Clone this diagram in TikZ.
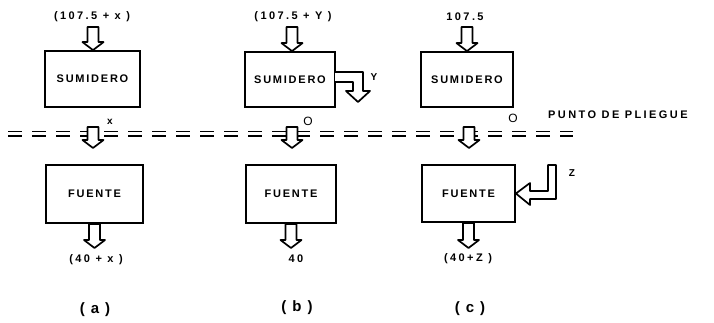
\documentclass[tikz,border=0pt]{standalone}
\usepackage{fontspec}
\setmainfont{Liberation Sans}
\newfontfamily\lblfont{Liberation Sans Bold}[LetterSpace=22]
\newfontfamily\boxfont{Liberation Sans Bold}[LetterSpace=16]
\newfontfamily\capfont{Liberation Sans Bold}[LetterSpace=12]
\newfontfamily\plainbold{Liberation Sans Bold}
\usetikzlibrary{calc}
\tikzset{
  box/.style={draw, line width=1.8pt, inner sep=0pt, font=\boxfont\fontsize{11}{12}\selectfont},
  lbl/.style={inner sep=0pt, font=\lblfont\fontsize{11}{12}\selectfont},
  small/.style={inner sep=0pt, font=\plainbold\fontsize{10}{11}\selectfont},
  capt/.style={inner sep=0pt, font=\capfont\fontsize{15}{16}\selectfont},
  blk/.style={draw, line width=1.7pt, fill=white, line join=round},
  dashline/.style={line width=1.7pt, dash pattern=on 14pt off 10pt},
}
\newcommand\blockdown[2]{%
  \draw[blk] let \p1=(#1), \p2=(#2) in
    (\x1-5.5pt,\y1) -- (\x1+5.5pt,\y1) -- (\x1+5.5pt,\y2+8pt) -- (\x1+10.5pt,\y2+8pt)
    -- (\x1,\y2) -- (\x1-10.5pt,\y2+8pt) -- (\x1-5.5pt,\y2+8pt) -- cycle;}
\begin{document}
\begin{tikzpicture}[x=1pt,y=-1pt]
\useasboundingbox[fill=white] (0,0) rectangle (714,323);
% dashed fold line
\coordinate (dA) at (8,131.5); \coordinate (dB) at (573,131.5);
\coordinate (dC) at (8,136); \coordinate (dD) at (573,136);
\draw[dashline] (dA) -- (dB);
\draw[dashline] (dC) -- (dD);
\node[lbl, anchor=west] (pp) at (548,115) {PUNTO DE PLIEGUE};
% boxes
\node[box, minimum width=95pt, minimum height=56pt] (s1) at (92.5,79) {SUMIDERO};
\node[box, minimum width=90pt, minimum height=55pt] (s2) at (290,79.5) {SUMIDERO};
\node[box, minimum width=92pt, minimum height=55pt] (s3) at (467,79.5) {SUMIDERO};
\node[box, minimum width=97pt, minimum height=58pt] (f1) at (94.5,194) {FUENTE};
\node[box, minimum width=90pt, minimum height=58pt] (f2) at (291,194) {FUENTE};
\node[box, minimum width=93pt, minimum height=57pt] (f3) at (468.5,193.5) {FUENTE};
% top labels
\node[lbl] (t1) at (92,17) {(107.5 + x )};
\node[lbl] (t2) at (293,17) {(107.5 + Y )};
\node[lbl] (t3) at (465,17) {107.5};
% top arrows
\coordinate (a1) at (93,27); \coordinate (a2) at (292,27); \coordinate (a3) at (467,27);
\blockdown{a1}{s1.north}
\blockdown{a2}{s2.north}
\blockdown{a3}{s3.north}
% middle arrows
\coordinate (m1) at (93,127); \coordinate (m1e) at (93,148);
\coordinate (m2) at (292,127); \coordinate (m2e) at (292,148);
\coordinate (m3) at (469,127); \coordinate (m3e) at (469,148);
\blockdown{m1}{m1e}
\blockdown{m2}{m2e}
\blockdown{m3}{m3e}
\node[small] (lx) at (110,122) {x};
\node[small, font=\fontsize{12}{13}\selectfont] (l0b) at (308,121) {O};
\node[small, font=\fontsize{12}{13}\selectfont] (l0c) at (513,118) {O};
% bottom arrows
\coordinate (e1) at (94,248); \coordinate (e2) at (291,248); \coordinate (e3) at (468,248);
\blockdown{f1.south}{e1}
\blockdown{f2.south}{e2}
\blockdown{f3.south}{e3}
% bottom labels
\node[lbl] (b1) at (96,260) {(40 + x )};
\node[lbl] (b2) at (296,259) {40};
\node[lbl] (b3) at (468,259) {(40+Z )};
% side arrow b
\coordinate (y1) at (335,72); \coordinate (y2) at (335,82);
\draw[blk] (y1) -- (363,72) -- (363,91) -- (370,91) -- (358,102) -- (346,91) -- (353,91) -- (353,82) -- (y2);
\node[small] (ly) at (374,77) {Y};
% side arrow c
\draw[blk] (556,165) -- (556,199) -- (530,199) -- (530,205) -- (f3.east) -- (530,183) -- (530,191) -- (548,191) -- (548,165) -- cycle;
\node[small] (lz) at (572,173) {Z};
% captions
\node[capt] (ca) at (95,310) {( a )};
\node[capt] (cb) at (297,308) {( b )};
\node[capt] (cc) at (470,309) {( c )};
\end{tikzpicture}
\end{document}
